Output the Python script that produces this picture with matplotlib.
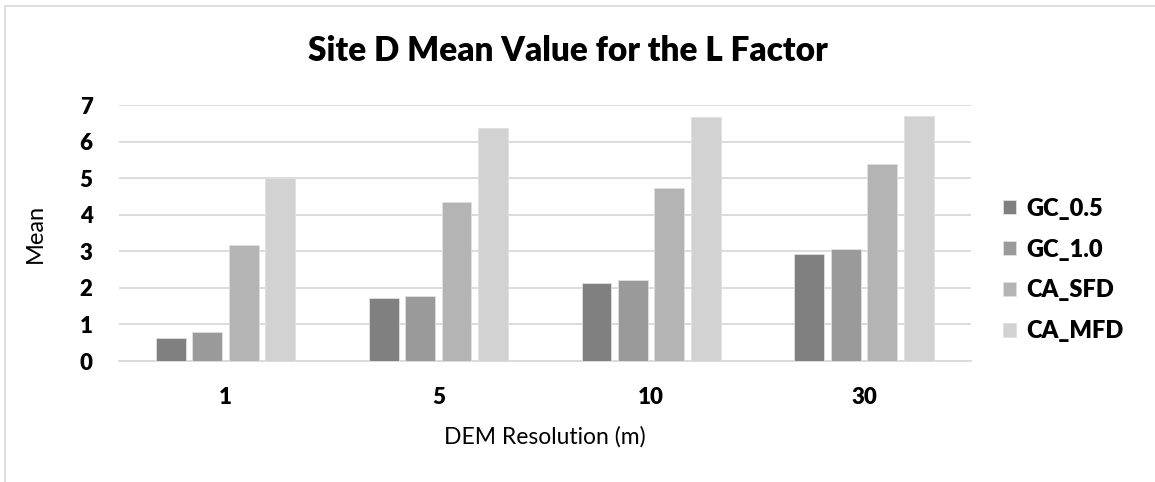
import numpy as np
import matplotlib
matplotlib.use("Agg")
import matplotlib.pyplot as plt
from matplotlib.patches import Rectangle

# data
resolutions = ['1', '5', '10', '30']
series_names = ['GC_0.5', 'GC_1.0', 'CA_SFD', 'CA_MFD']
gc_05 = [0.64, 1.73, 2.13, 2.93]
gc_10 = [0.80, 1.78, 2.22, 3.05]
ca_sfd = [3.16, 4.36, 4.74, 5.38]
ca_mfd = [5.01, 6.38, 6.66, 6.71]
colors = ['#808080', '#9a9a9a', '#b4b4b4', '#d2d2d2']

plt.rcParams['font.family'] = ['Lato', 'DejaVu Sans']

fig = plt.figure(figsize=(11.55, 4.82), dpi=100)
W, H = 1155, 482
ax = fig.add_axes([119 / W, 1 - 361 / H, (970.5 - 119) / W, (361 - 105) / H])

x = np.arange(len(resolutions))
slot = 0.685 / 4
bw = slot * 0.82
for i, vals in enumerate([gc_05, gc_10, ca_sfd, ca_mfd]):
    ax.bar(x + (i - 1.5) * slot, vals, width=bw, color=colors[i],
           edgecolor='#e0e0e0', linewidth=0.6, label=series_names[i], zorder=3)

ax.set_xlim(-0.5, 3.5)
ax.set_ylim(0, 7)
ax.set_yticks(range(8))
ax.yaxis.grid(True, color='#d9d9d9', linewidth=1.3, zorder=0)
for s in ['top', 'right', 'left']:
    ax.spines[s].set_visible(False)
ax.spines['bottom'].set_color('#d9d9d9')
ax.spines['bottom'].set_linewidth(1.3)
ax.tick_params(length=0, labelsize=16)
ax.tick_params(axis='y', pad=19)
ax.tick_params(axis='x', pad=19)
ax.set_xticks(x)
ax.set_xticklabels(resolutions, fontweight='heavy')
for lab in ax.get_yticklabels():
    lab.set_fontweight('heavy')

ax.set_xlabel('DEM Resolution (m)', fontsize=16.5, labelpad=13)
ax.set_ylabel('Mean', fontsize=17, labelpad=24)

fig.text(568 / W, 1 - 51 / H, 'Site D Mean Value for the L Factor',
         fontsize=24, fontweight='heavy', ha='center', va='center')

leg = ax.legend(loc='center left', bbox_to_anchor=(1003 / W, 1 - 270 / H),
                bbox_transform=fig.transFigure, frameon=False,
                prop={'size': 17, 'weight': 'heavy'}, handlelength=0.55,
                handleheight=0.55, handletextpad=0.45, labelspacing=0.8,
                borderaxespad=0, borderpad=0)

# outer chart border
fig.patches.append(Rectangle((5 / W, -0.01), 1.0, 1 - 6 / H + 0.01,
                             transform=fig.transFigure, fill=False,
                             edgecolor='#d9d9d9', linewidth=1.2))

fig.savefig('out.png', dpi=100)
